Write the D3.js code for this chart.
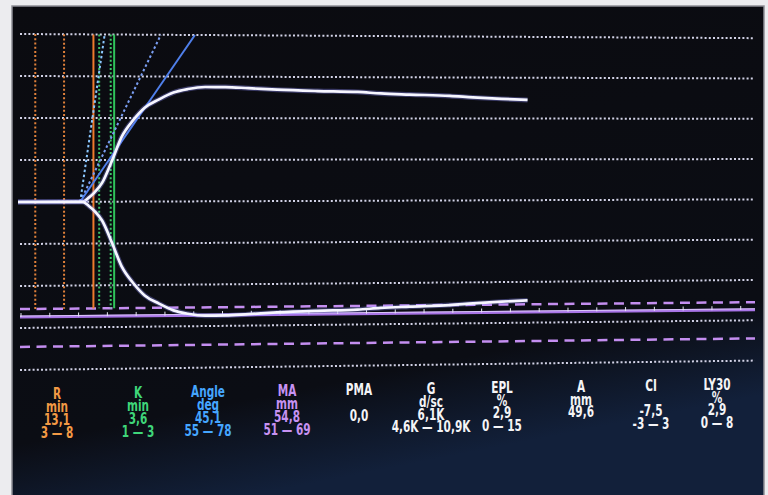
<!DOCTYPE html>
<html>
<head>
<meta charset="utf-8">
<script src="https://cdn.jsdelivr.net/npm/d3@7"></script>
<style>
    html, body { margin: 0; padding: 0; background: #ececef; }
    svg { display: block; }
    .lbl {
        font-family: "DejaVu Sans Condensed", "DejaVu Sans", sans-serif;
        font-weight: bold;
        font-size: 15px;
    }
</style>
</head>
<body>
<div id="teg"></div>
<script>
const width = 768
const height = 495

// trace: time (min) and amplitude (mm)
const traceTime = [0, 11.2, 12.3, 13.3, 14.6, 16.3, 18.0, 20.0, 22.0, 24.5, 27.0, 29.5, 32.5, 36, 40, 45, 52, 59, 63, 68, 75, 79, 84, 88.5]
const traceAmp = [0, 0, 2.0, 4.5, 9.0, 19.5, 31, 39, 45, 49, 52.3, 54, 55, 55, 54.5, 53.8, 53.2, 52.8, 52.1, 51.6, 51.0, 50.3, 49.6, 49.1]

// measured values and normal ranges used for the marker lines
const rNormal = [3, 8]
const rValue = 13.1
const kNormal = [1, 3]
const kValue = 3.6
const angleNormal = [55, 78]
const angleValue = 45.1
const angleStart = 10.8
const maNormal = [51, 69]
const maValue = 54.8

// grid lines (amplitude) and time ticks on the MA line
const gridAmps = [80, 60, 40, 20, 0, -20, -40, -60, -80]
const timeTicks = d3.range(0, 126, 5)

// parameter table
const paramNames = ["R", "K", "Angle", "MA", "PMA", "G", "EPL", "A", "CI", "LY30"]
const paramUnits = ["min", "min", "deg", "mm", "", "d/sc", "%", "mm", "", "%"]
const paramValues = ["13,1", "3,6", "45,1", "54,8", "0,0", "6,1K", "2,9", "49,6", "-7,5", "2,9"]
const paramRanges = ["3 — 8", "1 — 3", "55 — 78", "51 — 69", "", "4,6K — 10,9K", "0 — 15", "", "-3 — 3", "0 — 8"]
const paramColors = ["#f39a45", "#3fd67a", "#45a6ff", "#c792f2", "#f4f4f6", "#f4f4f6", "#f4f4f6", "#f4f4f6", "#f4f4f6", "#f4f4f6"]

// layout of the table columns / rows
const colX = [57, 138, 208, 287, 359, 431, 502, 581, 651, 717]
const rowY = [395, 408, 421, 434]

let x = d3.scaleLinear().domain([0, 128]).range([18, 755])
let y = d3.scaleLinear().domain([-80, 80]).range([370, 34])

// the photo is taken at a slight angle: things converge to the right
function warp(px, py) {
    const f = 1 - 5.5e-5 * (px - 20)
    return [px, 137 + (py - 137) * f]
}

let svg = d3.select("#teg")
    .append("svg")
    .attr("width", width)
    .attr("height", height)

// screen background
let grad = svg.append("defs").append("linearGradient")
    .attr("id", "screen").attr("x1", 0).attr("y1", 0).attr("x2", 0.3).attr("y2", 1)
grad.append("stop").attr("offset", "0%").attr("stop-color", "#0b0b10")
grad.append("stop").attr("offset", "82%").attr("stop-color", "#0b0d14")
grad.append("stop").attr("offset", "100%").attr("stop-color", "#12203a")

svg.append("rect")
    .attr("x", 12).attr("y", 6)
    .attr("width", 752).attr("height", 492)
    .attr("fill", "url(#screen)")
    .attr("stroke", "#8e8e96")
    .attr("stroke-width", 1.5)

function hline(g, v, x0, x1) {
    const a = warp(x0, y(v)), b = warp(x1, y(v))
    return g.append("line").attr("x1", a[0]).attr("y1", a[1]).attr("x2", b[0]).attr("y2", b[1])
}

function vline(g, t, v0, v1) {
    const a = warp(x(t), y(v0)), b = warp(x(t), y(v1))
    return g.append("line").attr("x1", a[0]).attr("y1", a[1]).attr("x2", b[0]).attr("y2", b[1])
}

// dotted grid
let grid = svg.append("g")
    .attr("stroke", "#d2d2e6")
    .attr("stroke-width", 2)
    .attr("stroke-dasharray", "2,2.2")
gridAmps.forEach(v => hline(grid, v, 20, 755))

// MA range (dashed) and MA line (solid with time ticks)
let ma = svg.append("g")
maNormal.forEach(v => {
    hline(ma, -v, 20, 755)
        .attr("stroke", "#c48ef0")
        .attr("stroke-width", 2.5)
        .attr("stroke-dasharray", "10,6.5")
})
hline(ma, -maValue, 20, 755)
    .attr("stroke", "#a874e6")
    .attr("stroke-width", 3)
hline(ma, -maValue, 20, 755)
    .attr("stroke", "#e8dcff")
    .attr("stroke-width", 0.8)
    .attr("transform", "translate(0,-1)")
timeTicks.forEach(t => {
    const p = warp(x(t) + 3, y(-maValue))
    ma.append("line")
        .attr("x1", p[0]).attr("x2", p[0])
        .attr("y1", p[1] - 4).attr("y2", p[1])
        .attr("stroke", "#e8e8f4")
        .attr("stroke-width", 1)
})

// R and K marker lines
let markers = svg.append("g").attr("stroke-width", 2)
rNormal.forEach(t => {
    vline(markers, t, 80, -maNormal[0]).attr("stroke", "#e0803a").attr("stroke-dasharray", "2,2.2")
})
vline(markers, rValue, 80, -maNormal[0]).attr("stroke", "#ee7a2c")
kNormal.forEach(k => {
    vline(markers, rValue + k, 80, -maNormal[0]).attr("stroke", "#3cc466").attr("stroke-dasharray", "2,2.2")
})
vline(markers, rValue + kValue, 80, -maNormal[0]).attr("stroke", "#2fc45a")

// angle lines: tan(angle) = (A / 2) / (2 * t)
function angleEnd(deg) {
    return angleStart + (80 / 2) / (2 * Math.tan(deg * Math.PI / 180))
}
let angles = svg.append("g").attr("stroke-width", 2)
angleNormal.forEach((deg, i) => {
    const a = warp(x(angleStart), y(0)), b = warp(x(angleEnd(deg)), y(80))
    angles.append("line")
        .attr("x1", a[0]).attr("y1", a[1]).attr("x2", b[0]).attr("y2", b[1])
        .attr("stroke", i == 0 ? "#7a9ef2" : "#8cc8ff")
        .attr("stroke-dasharray", "2.5,2.5")
})
{
    const a = warp(x(angleStart), y(0)), b = warp(x(angleEnd(angleValue)), y(80))
    angles.append("line")
        .attr("x1", a[0]).attr("y1", a[1]).attr("x2", b[0]).attr("y2", b[1])
        .attr("stroke", "#4f7fea")
}

// trace (both branches)
let line = d3.line().curve(d3.curveMonotoneX)
const upper = traceTime.map((t, i) => warp(x(t), y(traceAmp[i])))
const lower = traceTime.map((t, i) => warp(x(t), y(-traceAmp[i])))
;[upper, lower].forEach(pts => {
    svg.append("path")
        .attr("d", line(pts))
        .attr("fill", "none")
        .attr("stroke", "#8f8fff")
        .attr("stroke-opacity", 0.35)
        .attr("stroke-width", 5)
    svg.append("path")
        .attr("d", line(pts))
        .attr("fill", "none")
        .attr("stroke", "#f6f6ff")
        .attr("stroke-width", 2.7)
        .attr("stroke-linejoin", "round")
})

// parameter table (screen font is condensed, so squeeze horizontally)
let table = svg.append("g").attr("class", "lbl").attr("text-anchor", "middle")
paramNames.forEach((name, i) => {
    const rows = [name, paramUnits[i], paramValues[i], paramRanges[i]]
    rows.forEach((txt, r) => {
        if (!txt) return
        const p = warp(colX[i], rowY[r])
        table.append("text")
            .attr("transform", `translate(${p[0]},${p[1] + 5}) scale(0.78,1)`)
            .attr("fill", paramColors[i])
            .text(txt)
    })
})
</script>
</body>
</html>
